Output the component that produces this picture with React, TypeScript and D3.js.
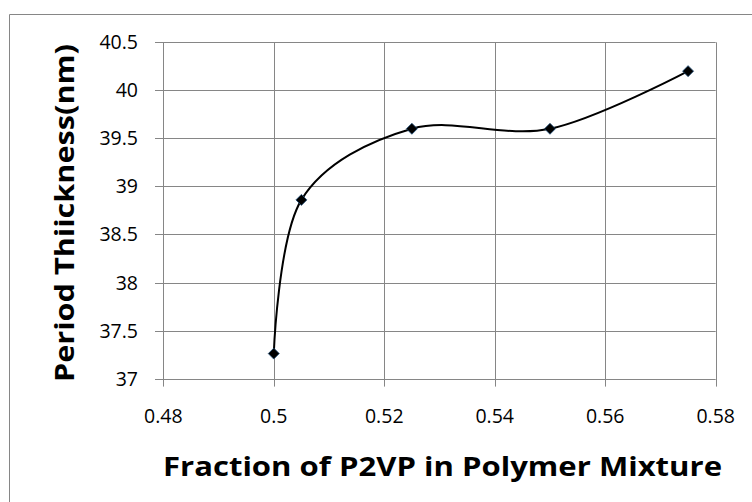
import React from "react";
import * as d3 from "d3";

const fractions = [0.5, 0.505, 0.525, 0.55, 0.575];
const thickness = [37.26, 38.86, 39.6, 39.6, 40.2];
const xTicks = [0.48, 0.5, 0.52, 0.54, 0.56, 0.58];
const yTicks = [37, 37.5, 38, 38.5, 39, 39.5, 40, 40.5];
const xTitle = "Fraction of P2VP in Polymer Mixture";
const yTitle = "Period Thiickness(nm)";

const W = 752;
const H = 502;
const FONT = "'Open Sans', 'Liberation Sans', sans-serif";
const GRID = "#868686";

export default function App() {
  const x = d3.scaleLinear().domain([0.48, 0.58]).range([163.3, 715.7]);
  const y = d3.scaleLinear().domain([37, 40.5]).range([378.6, 42.3]);
  const pts: [number, number][] = fractions.map((f, i) => [x(f), y(thickness[i])]);
  const line = d3.line().curve(d3.curveCardinal.tension(0))(pts) || "";
  const r = 5.5;
  const diamond = (cx: number, cy: number) =>
    `M${cx},${cy - r}L${cx + r},${cy}L${cx},${cy + r}L${cx - r},${cy}Z`;
  const [x0, x1] = x.range();
  const [yb, yt] = y.range();
  return (
    <svg
      width={W}
      height={H}
      style={{ position: "absolute", left: 0, top: 0, display: "block", background: "#fff" }}
    >
      <rect x={0} y={0} width={W} height={H} fill="#fff" />
      <path d={`M9.5,${H}V14.5H${W}`} fill="none" stroke={GRID} strokeWidth={1} />
      {yTicks.map((t) => (
        <line key={"gy" + t} x1={155} x2={x1} y1={Math.round(y(t)) + 0.5} y2={Math.round(y(t)) + 0.5} stroke={GRID} strokeWidth={1} />
      ))}
      {xTicks.map((t) => (
        <line key={"gx" + t} x1={Math.round(x(t)) + 0.5} x2={Math.round(x(t)) + 0.5} y1={yt} y2={yb + 8} stroke={GRID} strokeWidth={1} />
      ))}
      {yTicks.map((t) => (
        <text key={"ly" + t} x={138} y={y(t)} dy="0.36em" textAnchor="end" fontFamily={FONT} fontSize={19.5} fill="#000">
          {String(t)}
        </text>
      ))}
      {xTicks.map((t) => (
        <text key={"lx" + t} x={x(t)} y={423} textAnchor="middle" fontFamily={FONT} fontSize={19.5} fill="#000">
          {String(t)}
        </text>
      ))}
      <path d={line} fill="none" stroke="#000" strokeWidth={2} />
      {pts.map(([cx, cy], i) => (
        <path key={"m" + i} d={diamond(cx, cy)} fill="#000" stroke="#1f4e79" strokeWidth={0.8} />
      ))}
      <text
        x={442.5}
        y={476}
        textAnchor="middle"
        fontFamily={FONT}
        fontWeight="bold"
        fontSize={27}
        textLength={559}
        lengthAdjust="spacingAndGlyphs"
        fill="#000"
      >
        {xTitle}
      </text>
      <text
        transform={`translate(74,${213}) rotate(-90)`}
        textAnchor="middle"
        fontFamily={FONT}
        fontWeight="bold"
        fontSize={27}
        textLength={338}
        lengthAdjust="spacingAndGlyphs"
        fill="#000"
      >
        {yTitle}
      </text>
    </svg>
  );
}
